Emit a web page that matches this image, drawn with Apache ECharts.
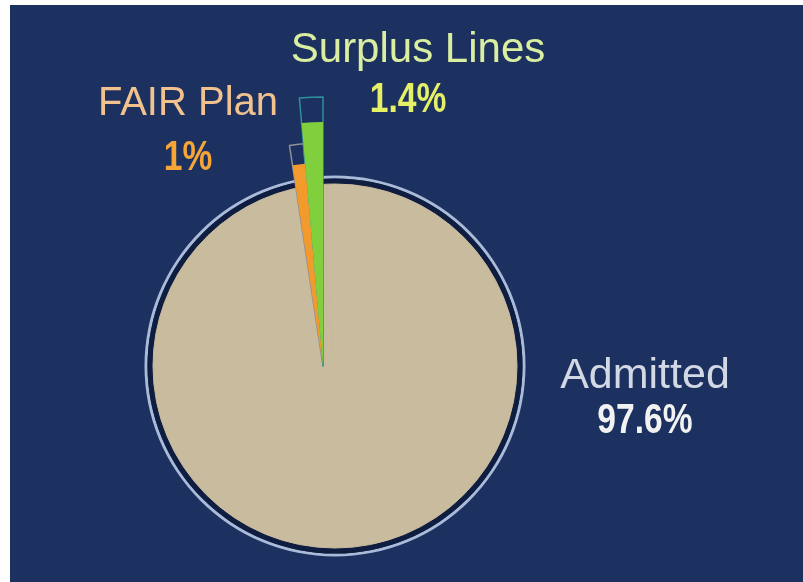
<!DOCTYPE html>
<html>
<head>
<meta charset="utf-8">
<script src="https://cdn.jsdelivr.net/npm/echarts@6/dist/echarts.min.js"></script>
<style>
html,body{margin:0;padding:0;background:#ffffff;}
#chart{width:803px;height:582px;}
</style>
</head>
<body>
<div id="chart"></div>
<script>
// ---- data ----
const categories = ['Admitted', 'FAIR Plan', 'Surplus Lines'];
const shares = [97.6, 1, 1.4];

// ---- styles / layout ----
const sliceColors = ['#c9bb9e', '#f39a2c', '#80cf3c'];
const outlineColors = [null, '#8f8f94', '#2f8f9c'];
const nameColors = ['#d3d9e4', '#f2c28e', '#d9eea0'];
const valueColors = ['#f2f2f2', '#f6a536', '#e6f066'];
const PIE_CENTER = [335, 366];
const SLICE_CENTER = [323, 366];
const R_MAIN = 182;
const R_EXT = [R_MAIN, 203, 244];      // filled radius per slice
const R_BOX = [R_MAIN, 223, 269];      // outline radius per slice
const labelPos = [[645, 376, 421], [188, 104, 158], [418, 50, 100]]; // x, name y, value y
const valueX = [645, 188, 408];
const nameSizes = [43, 40, 42];

function sliceSeries(radiusIdx, fill, outline) {
  return {
    type: 'pie',
    center: SLICE_CENTER,
    radius: [0, fill ? R_EXT[radiusIdx] : R_BOX[radiusIdx]],
    startAngle: 90,
    clockwise: true,
    silent: true,
    label: {show: false},
    labelLine: {show: false},
    z: outline ? 3 : 4,
    data: categories.map((c, i) => ({
      name: c,
      value: shares[i],
      itemStyle: i === radiusIdx
        ? (outline
            ? {color: 'rgba(0,0,0,0)', borderColor: outlineColors[i], borderWidth: 1.5}
            : {color: sliceColors[i], borderWidth: 0})
        : {color: 'rgba(0,0,0,0)', borderWidth: 0}
    }))
  };
}

const chart = echarts.init(document.getElementById('chart'), null, {renderer: 'canvas'});

const graphics = [{
  type: 'rect', z: -100,
  shape: {x: 10, y: 5, width: 793, height: 577},
  style: {fill: '#1c3160'}
}];
categories.forEach((c, i) => {
  graphics.push({
    type: 'text', z: 100,
    x: labelPos[i][0], y: labelPos[i][1],
    style: {
      text: c, fill: nameColors[i],
      font: nameSizes[i] + 'px "Liberation Sans", Arial, sans-serif',
      align: 'center', verticalAlign: 'middle'
    }
  });
  graphics.push({
    type: 'text', z: 100,
    x: valueX[i], y: labelPos[i][2],
    scaleX: 0.8,
    style: {
      text: shares[i] + '%', fill: valueColors[i],
      font: 'bold 42px "Liberation Sans", Arial, sans-serif',
      align: 'center', verticalAlign: 'middle'
    }
  });
});

const series = [
  // outer ring
  {
    type: 'pie', center: PIE_CENTER, radius: [187.5, 190.5], silent: true, z: 1,
    label: {show: false}, labelLine: {show: false},
    data: [{value: 1, name: 'ring', itemStyle: {color: '#a9bbd9'}}]
  },
  // dark gap
  {
    type: 'pie', center: PIE_CENTER, radius: [0, 187.5], silent: true, z: 1,
    label: {show: false}, labelLine: {show: false},
    data: [{value: 1, name: 'gap', itemStyle: {color: '#0f1d40'}}]
  },
  // main pie (base disc, all beige)
  {
    type: 'pie', center: PIE_CENTER, radius: [0, R_MAIN], startAngle: 90, clockwise: true,
    silent: true, z: 2,
    label: {show: false}, labelLine: {show: false},
    data: categories.map((c, i) => ({name: c, value: shares[i],
      itemStyle: {color: sliceColors[0], borderColor: sliceColors[0], borderWidth: 1}}))
  },
  sliceSeries(1, false, true),
  sliceSeries(2, false, true),
  sliceSeries(1, true, false),
  sliceSeries(2, true, false)
];

chart.setOption({
  animation: false,
  backgroundColor: '#ffffff',
  graphic: graphics,
  series: series
});
</script>
</body>
</html>
